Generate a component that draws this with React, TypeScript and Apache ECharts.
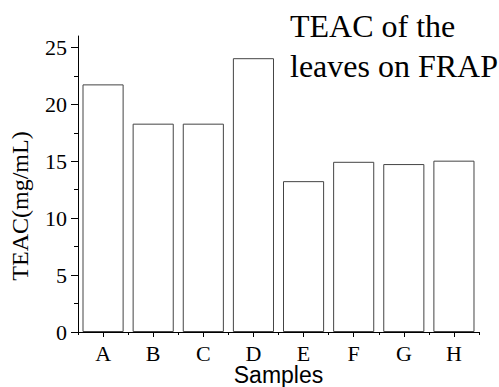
import React, { useEffect, useRef } from "react";
import * as echarts from "echarts";

const categories = ["A", "B", "C", "D", "E", "F", "G", "H"];
const teacValues = [21.75, 18.3, 18.3, 24.05, 13.25, 14.95, 14.75, 15.05];
const majorTicks = [0, 5, 10, 15, 20, 25];
const minorTicks = [2.5, 7.5, 12.5, 17.5, 22.5];
const titleLines = ["TEAC of the", "leaves on FRAP"];

const SERIF = "'Liberation Serif', 'Times New Roman', serif";
const SANS = "'Liberation Sans', Arial, sans-serif";

export default function App() {
  const ref = useRef<HTMLDivElement>(null);
  useEffect(() => {
    if (!ref.current) return;
    const chart = echarts.init(ref.current, null, { renderer: "svg" });
    chart.setOption({
      animation: false,
      backgroundColor: "#ffffff",
      title: {
        text: titleLines.join("\n"),
        left: 290,
        top: 6,
        textStyle: {
          fontFamily: SERIF,
          fontSize: 32,
          fontWeight: "normal",
          color: "#000",
          lineHeight: 40,
        },
        padding: 0,
      },
      grid: { left: 78, right: 20, top: 36, bottom: 55, containLabel: false, outerBoundsMode: "none" },
      xAxis: [
        {
          type: "category",
          data: categories,
          position: "bottom",
          axisLine: { show: true, lineStyle: { color: "#000", width: 1 } },
          axisTick: { show: true, alignWithLabel: true, length: 5, lineStyle: { color: "#000", width: 1 } },
          axisLabel: { fontFamily: SERIF, fontSize: 22, lineHeight: 18, color: "#000", margin: 12 },
          name: "Samples",
          nameLocation: "middle",
          nameGap: 31,
          nameMoveOverlap: false,
          nameTextStyle: { fontFamily: SANS, fontSize: 23, color: "#000", lineHeight: 23 },
        },
        {
          type: "category",
          data: categories,
          position: "bottom",
          axisLine: { show: false },
          axisTick: { show: true, alignWithLabel: false, length: 3, lineStyle: { color: "#000", width: 1 } },
          axisLabel: { show: false },
        },
      ],
      yAxis: [
        {
          type: "value",
          min: 0,
          max: 26,
          interval: 5,
          position: "left",
          axisLine: { show: true, lineStyle: { color: "#000", width: 1 } },
          axisTick: { show: true, length: 7, customValues: majorTicks, lineStyle: { color: "#000", width: 1 } },
          axisLabel: {
            customValues: majorTicks,
            fontFamily: SERIF,
            fontSize: 22,
            color: "#000",
            margin: 11,
          },
          splitLine: { show: false },
          name: "TEAC(mg/mL)",
          nameLocation: "middle",
          nameGap: 46,
          nameTextStyle: { fontFamily: SERIF, fontSize: 24, color: "#000", padding: [0, 44, 0, 0] },
        },
        {
          type: "value",
          min: 0,
          max: 26,
          interval: 5,
          position: "left",
          offset: 0,
          axisLine: { show: false },
          axisTick: { show: true, length: 4, customValues: minorTicks, lineStyle: { color: "#000", width: 1 } },
          axisLabel: { show: false },
          splitLine: { show: false },
        },
      ],
      series: [
        {
          type: "bar",
          data: teacValues,
          xAxisIndex: 0,
          yAxisIndex: 0,
          barCategoryGap: "18%",
          itemStyle: { color: "#ffffff", borderColor: "#444", borderWidth: 1 },
        },
      ],
    });
    return () => chart.dispose();
  }, []);
  return (
    <div
      ref={ref}
      style={{ position: "fixed", left: 0, top: 0, width: 499, height: 387 }}
    />
  );
}
